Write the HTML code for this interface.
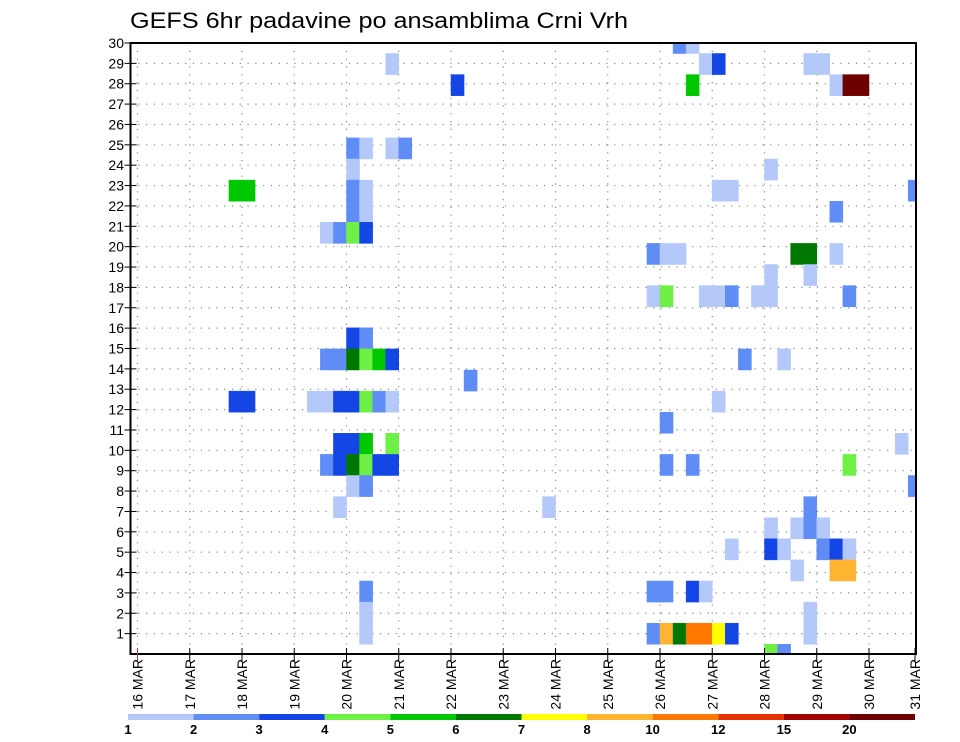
<!DOCTYPE html>
<html><head><meta charset="utf-8"><style>
html,body{margin:0;padding:0;background:#fff;}
svg{display:block;font-family:"Liberation Sans","DejaVu Sans",sans-serif;}
</style></head><body>
<svg id="chart" width="960" height="742" viewBox="0 0 960 742" xmlns="http://www.w3.org/2000/svg">
<text x="130" y="28" font-size="22" textLength="498" lengthAdjust="spacingAndGlyphs">GEFS 6hr padavine po ansamblima Crni Vrh</text>
<g id="grid"></g>
<g id="cells"></g>
<rect x="130.5" y="43" width="785.5" height="611" fill="none" stroke="#000" stroke-width="2"/>
<g id="axes"></g>
<g id="cbar"></g>
</svg>
<script>
const dayLabels=["16 MAR","17 MAR","18 MAR","19 MAR","20 MAR","21 MAR","22 MAR","23 MAR","24 MAR","25 MAR","26 MAR","27 MAR","28 MAR","29 MAR","30 MAR","31 MAR"];
const memberTicks=[1,2,3,4,5,6,7,8,9,10,11,12,13,14,15,16,17,18,19,20,21,22,23,24,25,26,27,28,29,30];
const palette=["#b4c8fa","#5f8cf5","#1446e6","#6ef046","#00c800","#007800","#ffff00","#ffb432","#ff7800","#e63200","#a50000","#6e0000"];
const cbarLabels=["1","2","3","4","5","6","7","8","10","12","15","20"];
// member index, 6h slot index since 16 MAR 00Z, colour class (1..12)
const cellMembers=[
28,27,24,24,24,24,23,22,22,22,
22,21,21,20,20,20,20,15,15,14,
14,14,14,14,14,13,12,12,12,12,
12,12,12,12,12,10,10,10,10,9,
9,9,9,9,9,8,8,7,7,3,
2,1,19,19,19,19,19,19,18,18,
17,17,17,17,17,17,17,17,14,14,
12,11,10,9,9,9,8,7,6,6,
6,6,5,5,5,5,5,5,4,4,
4,3,3,3,3,2,1,1,1,1,
1,1,1,1,0,0,29,29,28,28,
28,28,27,27,27,27,23,22,22,22,
21];
const cellSlots=[
19,24,16,17,19,20,16,16,17,7,
8,16,17,14,15,16,17,16,17,14,
15,16,17,18,19,25,7,8,13,14,
15,16,17,18,19,15,16,17,19,14,
15,16,17,18,19,16,17,15,31,17,
17,17,39,40,41,50,51,53,48,51,
39,40,43,44,45,47,48,54,46,49,
44,40,58,40,42,54,59,51,48,50,
51,52,45,48,49,52,53,54,50,53,
54,39,40,42,43,51,51,39,40,41,
42,43,44,45,48,49,41,42,43,44,
51,52,42,53,54,55,48,44,45,59,
53];
const cellClasses=[
1,3,2,1,1,2,1,2,1,5,
5,2,1,1,2,4,3,3,2,2,
2,6,4,5,3,2,3,3,1,1,
3,3,4,2,1,3,3,5,4,2,
3,6,4,3,3,1,2,1,1,2,
1,1,2,1,1,6,6,1,1,1,
1,4,1,1,2,1,1,2,2,1,
1,2,1,2,2,4,2,2,1,1,
2,1,1,3,1,2,3,1,1,8,
8,2,2,3,1,1,1,2,8,6,
9,9,7,3,4,2,2,1,1,3,
1,1,5,1,12,12,1,1,1,2,
2];
</script>
<script>
const NS="http://www.w3.org/2000/svg";
const X0=137.5, DAY=52.25, SLOT=DAY/4, PL=130.5, PR=916, PT=43, PB=654;
function xDay(d){return X0+d*DAY;}
function xSlot(k){return X0+k*SLOT;}
function yRow(r){return PB-r*(PB-PT)/30;}
const CH=21.1, CB=644.3;
function yCellTop(m){return CB-m*CH;}
function mk(tag,attrs,parent){const e=document.createElementNS(NS,tag);for(const k in attrs)e.setAttribute(k,attrs[k]);parent.appendChild(e);return e;}
const grid=document.getElementById('grid'),cells=document.getElementById('cells'),axes=document.getElementById('axes'),cbar=document.getElementById('cbar');
memberTicks.forEach(r=>{if(r<30){const l=mk('line',{x1:PL,x2:PR,y1:yRow(r),y2:yRow(r),stroke:'#888','stroke-width':1.2,'stroke-dasharray':'1.2 6.6'},grid);

}});
dayLabels.forEach((s,i)=>{const x=xDay(i);if(x>PL&&x<PR-2){const l=mk('line',{x1:x,x2:x,y1:PT,y2:PB,stroke:'#888','stroke-width':1.2,'stroke-dasharray':'1.2 6.6'},grid);

}});
const n=Math.min(cellMembers.length,cellSlots.length,cellClasses.length);
for(let i=0;i<n;i++){
  const m=cellMembers[i],k=cellSlots[i],c=cellClasses[i];
  let y1=yCellTop(m),y2=y1+CH;y1=Math.max(y1,PT);y2=Math.min(y2,PB);
  let x1=xSlot(k),x2=x1+SLOT;x2=Math.min(x2,PR);
  const r=mk('rect',{x:x1,y:y1,width:x2-x1,height:y2-y1,fill:palette[c-1],stroke:palette[c-1],'stroke-width':0.5},cells);
  
  
}
memberTicks.forEach(r=>{const y=yRow(r);
  mk('line',{x1:PL-6,x2:PL+6,y1:y,y2:y,stroke:'#000','stroke-width':1},axes);
  const t=mk('text',{x:124,y:y+5,'text-anchor':'end','font-size':14},axes);t.textContent=r;
  
  });
dayLabels.forEach((s,i)=>{let x=xDay(i);if(x>PR)x=PR-1;
  mk('line',{x1:x,x2:x,y1:PB-6,y2:PB+8,stroke:i==0?'#c33':'#000','stroke-width':1},axes);
  const t=mk('text',{x:0,y:0,'font-size':14,'text-anchor':'end',transform:'translate('+(x+5)+','+(PB+5)+') rotate(-90)'},axes);t.textContent=s;
  
  });
const CBX=128,CBW=(915-128)/12;
palette.forEach((c,i)=>{const r=mk('rect',{x:CBX+i*CBW,y:714,width:CBW,height:6,fill:c},cbar);
  
  });
cbarLabels.forEach((s,i)=>{const t=mk('text',{x:CBX+i*CBW,y:734,'text-anchor':'middle','font-size':13,'font-weight':'bold'},cbar);t.textContent=s;
  
  });
</script>
</body></html>
